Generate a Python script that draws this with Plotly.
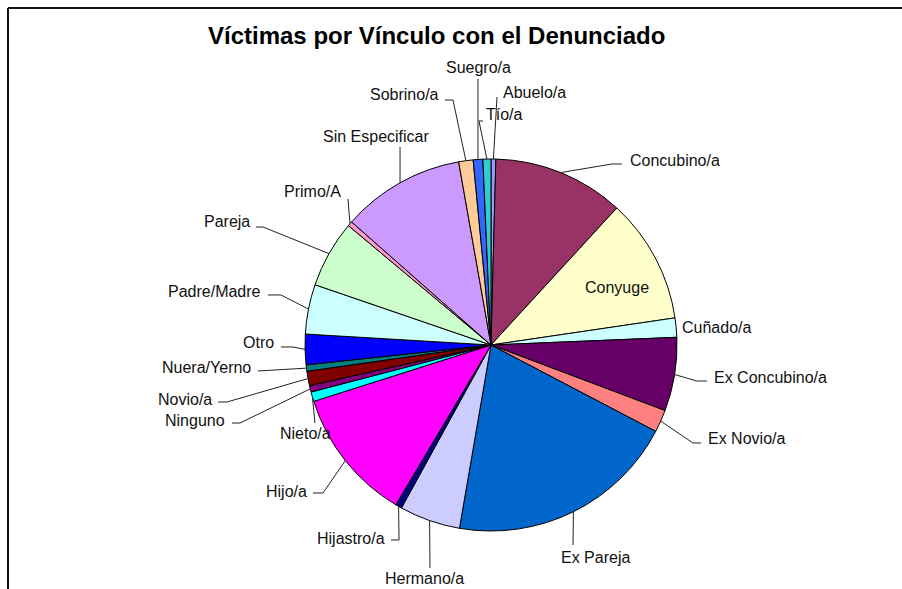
import math
import plotly.graph_objects as go

# ---------------- data ----------------
categories = ["Abuelo/a", "Concubino/a", "Conyuge", "Cuñado/a", "Ex Concubino/a",
              "Ex Novio/a", "Ex Pareja", "Hermano/a", "Hijastro/a", "Hijo/a",
              "Nieto/a", "Ninguno", "Novio/a", "Nuera/Yerno", "Otro",
              "Padre/Madre", "Pareja", "Primo/A", "Sin Especificar", "Sobrino/a",
              "Suegro/a", "Tío/a"]
values = [3, 82, 78, 12, 46, 14, 144, 38, 4, 83, 6, 4, 9, 4, 19, 31, 42, 3, 77, 9, 6, 5]
title_text = "Víctimas por Vínculo con el Denunciado"

# ---------------- styles ----------------
colors = ["#9999FF", "#993366", "#FFFFCC", "#CCFFFF", "#660066",
          "#FF8080", "#0066CC", "#CCCCFF", "#000080", "#FF00FF",
          "#00FFFF", "#800080", "#800000", "#008080", "#0000FF",
          "#CCFFFF", "#CCFFCC", "#FF99CC", "#CC99FF", "#FFCC99",
          "#3366FF", "#33CCCC"]

W, H = 902, 589
CX, CY, R = 491, 345, 186  # pie placement in pixels

# label layout (pixels): text x, text y, xanchor, leader path points after slice edge (None = no line)
label_layout = {
    "Abuelo/a":        (501, 92, "left",   [(497, 97)]),
    "Concubino/a":     (628, 160, "left",  [(612, 164), (622, 164)]),
    "Conyuge":         (617, 288, "center", None),
    "Cuñado/a":        (680, 327, "left",  None),
    "Ex Concubino/a":  (712, 377, "left",  [(697, 381), (707, 381)]),
    "Ex Novio/a":      (706, 438, "left",  [(693, 443), (701, 443)]),
    "Ex Pareja":       (595, 557, "center", [(573, 545)]),
    "Hermano/a":       (424, 578, "center", [(430, 568)]),
    "Hijastro/a":      (387, 538, "right", [(399, 540), (391, 540)]),
    "Hijo/a":          (309, 491, "right", [(323, 493), (313, 493)]),
    "Nieto/a":         (305, 433, "center", [(315, 423)]),
    "Ninguno":         (227, 420, "right", [(240, 423), (232, 423)]),
    "Novio/a":         (214, 399, "right", [(227, 402), (218, 402)]),
    "Nuera/Yerno":     (253, 367, "right", [(258, 371)]),
    "Otro":            (276, 342, "right", [(293, 347), (281, 347)]),
    "Padre/Madre":     (263, 291, "right", [(281, 295), (268, 295)]),
    "Pareja":          (252, 221, "right", [(263, 227), (256, 227)]),
    "Primo/A":         (343, 192, "right", [(348, 199)]),
    "Sin Especificar": (376, 137, "center", [(400, 147)]),
    "Sobrino/a":       (441, 95, "right",  [(453, 100), (445, 100)]),
    "Suegro/a":        (478, 68, "center", [(478, 79)]),
    "Tío/a":           (484, 114, "left",  [(479, 121), (483, 121)]),
}

fig = go.Figure(go.Pie(
    labels=categories,
    values=values,
    sort=False,
    direction="clockwise",
    rotation=0,
    marker=dict(colors=colors, line=dict(color="#000000", width=1)),
    textinfo="none",
    showlegend=False,
    domain=dict(x=[(CX - R) / W, (CX + R) / W], y=[(H - CY - R) / H, (H - CY + R) / H]),
))

def px(x):
    return x / W

def py(y):
    return 1 - y / H

total = sum(values)
annotations = []
shapes = []
cum = 0.0
for cat, v in zip(categories, values):
    mid = (cum + v / 2) / total * 2 * math.pi
    cum += v
    tx, ty, anchor, pts = label_layout[cat]
    annotations.append(dict(
        x=px(tx), y=py(ty), xref="paper", yref="paper",
        text=cat, showarrow=False, xanchor=anchor, yanchor="middle",
        font=dict(family="Liberation Sans, Arial, sans-serif", size=16, color="#111111"),
    ))
    if pts:
        sx = CX + R * math.sin(mid)
        sy = CY - R * math.cos(mid)
        path = "M %.4f,%.4f" % (px(sx), py(sy))
        for (qx, qy) in pts:
            path += " L %.4f,%.4f" % (px(qx), py(qy))
        shapes.append(dict(type="path", path=path, xref="paper", yref="paper",
                           line=dict(color="#222222", width=1)))

# chart area frame (top and left edges visible)
shapes.append(dict(type="line", xref="paper", yref="paper",
                   x0=px(8), y0=py(8), x1=1, y1=py(8), line=dict(color="#111111", width=2)))
shapes.append(dict(type="line", xref="paper", yref="paper",
                   x0=px(8), y0=py(8), x1=px(8), y1=0, line=dict(color="#111111", width=2)))

annotations.append(dict(
    x=px(436), y=py(35), xref="paper", yref="paper", text="<b>" + title_text + "</b>",
    showarrow=False, xanchor="center", yanchor="middle",
    font=dict(family="Liberation Sans, Arial, sans-serif", size=24, color="#000000"),
))

fig.update_layout(
    width=W, height=H,
    margin=dict(l=0, r=0, t=0, b=0),
    paper_bgcolor="#FFFFFF",
    plot_bgcolor="#FFFFFF",
    annotations=annotations,
    shapes=shapes,
)

fig.write_html("out.html",
               config={"displayModeBar": False},
               post_script="document.body.style.margin='0px';document.body.style.overflow='hidden';")
